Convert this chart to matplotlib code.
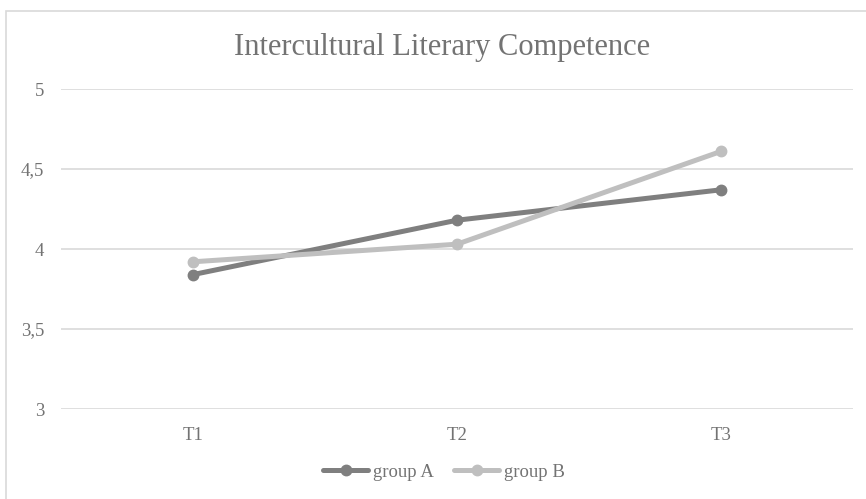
import matplotlib.pyplot as plt
from matplotlib.patches import Rectangle
from matplotlib.ticker import FuncFormatter

# Data
times = ["T1", "T2", "T3"]
group_a = [3.84, 4.18, 4.37]
group_b = [3.92, 4.03, 4.61]

plt.rcParams['font.family'] = ['Liberation Serif', 'DejaVu Serif']

W, H = 866, 499
fig = plt.figure(figsize=(W / 100, H / 100), dpi=100)
ax = fig.add_axes([61 / W, 1 - 409 / H, (853 - 61) / W, (409 - 89) / H])

text_col = "#737373"
x = range(len(times))
ax.plot(x, group_a, color="#7f7f7f", lw=3.6, marker="o", ms=7.5, label="group A",
        solid_capstyle="round", zorder=3)
ax.plot(x, group_b, color="#bfbfbf", lw=3.6, marker="o", ms=7.5, label="group B",
        solid_capstyle="round", zorder=3)

ax.set_xlim(-0.5, 2.5)
ax.set_ylim(3, 5)
ax.set_yticks([3, 3.5, 4, 4.5, 5])
ax.yaxis.set_major_formatter(FuncFormatter(lambda v, p: f"{v:g}".replace(".", ",")))
ax.set_xticks(list(x))
ax.set_xticklabels(times)
ax.grid(axis="y", color="#d9d9d9", lw=1.2)
ax.set_axisbelow(True)
for s in ax.spines.values():
    s.set_visible(False)
ax.tick_params(length=0, colors=text_col, labelsize=13.5)
ax.tick_params(axis="y", pad=12)
ax.tick_params(axis="x", pad=13)

# title
fig.text(442 / W, 1 - 48 / H, "Intercultural Literary Competence",
         ha="center", va="center", fontsize=22, color=text_col)

leg = fig.legend(loc="center", bbox_to_anchor=(444 / W, 1 - 472 / H), ncol=2,
                 frameon=False, fontsize=13.5, labelcolor=text_col,
                 handlelength=2.4, handletextpad=0.25, columnspacing=1.1)

# light outer frame
fig.patches.append(Rectangle((6 / W, -0.1), 1.2, 1 - 11 / H + 0.1, transform=fig.transFigure,
                             fill=False, edgecolor="#d9d9d9", lw=1.2))

fig.savefig("out.png", dpi=100)
